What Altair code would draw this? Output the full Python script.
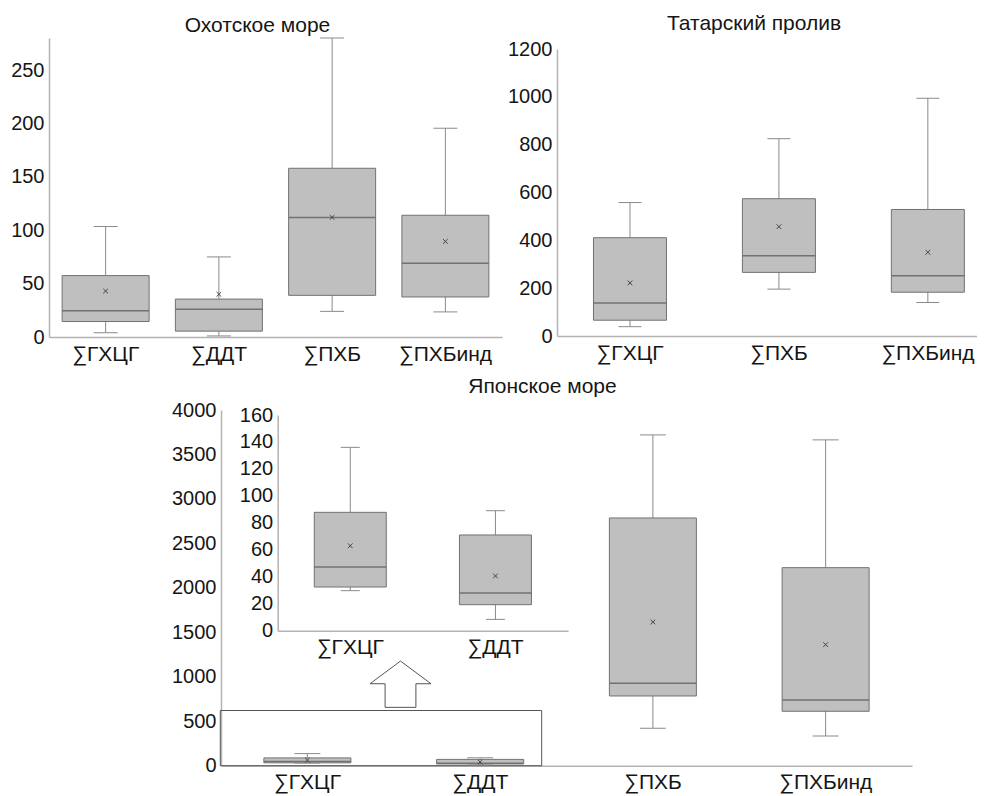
import altair as alt
import pandas as pd

FONT = "Liberation Sans"
FS_Y = 20
FS_X = 21
FS_T = 21
TXT = "#151515"
BOX_FILL = "#bfbfbf"
BOX_EDGE = "#727272"
WHISK = "#8a8a8a"
AXIS = "#b4b4b4"
MARK = "#444444"

# ---------------- data ----------------
# Охотское море
okh_cats = ["∑ГХЦГ", "∑ДДТ", "∑ПХБ", "∑ПХБинд"]
okh_min = [4, 1, 24, 23.5]
okh_q1 = [14.5, 5.5, 39, 37.5]
okh_med = [24.5, 26, 112, 69]
okh_q3 = [57.5, 35.5, 158, 114]
okh_max = [103.5, 75, 280, 195.5]
okh_mean = [43, 40, 112, 89.5]
okh_ticks = [0, 50, 100, 150, 200, 250]

# Татарский пролив
tat_cats = ["∑ГХЦГ", "∑ПХБ", "∑ПХБинд"]
tat_min = [39, 196, 140]
tat_q1 = [66, 266, 183]
tat_med = [138, 336, 252]
tat_q3 = [411, 574, 529]
tat_max = [558, 825, 994]
tat_mean = [222, 457, 350]
tat_ticks = [0, 200, 400, 600, 800, 1000, 1200]

# Японское море
jap_cats = ["∑ГХЦГ", "∑ДДТ", "∑ПХБ", "∑ПХБинд"]
jap_min = [29.7, 8.4, 421, 334]
jap_q1 = [32.4, 19.3, 784, 612]
jap_med = [47.3, 28, 927, 739]
jap_q3 = [87.8, 71, 2786, 2227]
jap_max = [136, 89, 3720, 3664]
jap_mean = [63, 40.6, 1616, 1361]
jap_ticks = [0, 500, 1000, 1500, 2000, 2500, 3000, 3500, 4000]

# inset (увеличенный фрагмент для ∑ГХЦГ и ∑ДДТ)
ins_cats = ["∑ГХЦГ", "∑ДДТ"]
ins_ticks = [0, 20, 40, 60, 80, 100, 120, 140, 160]

titles = ["Охотское море", "Татарский пролив", "Японское море"]

# ---------------- layout ----------------
W, H = 969, 786


def panel(cats, mins, q1, med, q3, maxs, means, ydomain, yticks,
          xrange, yrange, xpad, box_w, cap_w):
    df = pd.DataFrame(dict(cat=cats, lo=mins, q1=q1, med=med, q3=q3,
                           hi=maxs, mean=means))
    xs = alt.Scale(domain=cats, range=xrange, **xpad)
    xax = alt.Axis(orient="bottom", offset=yrange[0] - H, title=None,
                   ticks=False, tickSize=0, labelAngle=0, labelPadding=6,
                   grid=False, labelFont=FONT, labelFontSize=FS_X,
                   labelColor=TXT, domainColor=AXIS, domainWidth=1.5)
    x = alt.X("cat:N", sort=cats, scale=xs, axis=xax)
    ys = alt.Scale(domain=ydomain, range=yrange, nice=False, zero=True)
    yax = alt.Axis(orient="left", offset=-xrange[0], values=yticks,
                   format="d", title=None, ticks=False, tickSize=0,
                   labelPadding=5, grid=False, labelFont=FONT,
                   labelFontSize=FS_Y, labelColor=TXT, domainColor=AXIS,
                   domainWidth=1.5)

    def Y(f):
        return alt.Y(f"{f}:Q", scale=ys, axis=yax)

    base = alt.Chart(df).encode(x=x)
    whisk = base.mark_rule(color=WHISK, strokeWidth=1).encode(y=Y("lo"), y2="hi")
    box = base.mark_bar(size=box_w, fill=BOX_FILL, stroke=BOX_EDGE,
                        strokeWidth=1).encode(y=Y("q1"), y2="q3")
    medl = base.mark_tick(size=box_w, thickness=1.5, color=BOX_EDGE,
                          opacity=1).encode(y=Y("med"))
    caplo = base.mark_tick(size=cap_w, thickness=1, color=WHISK,
                           opacity=1).encode(y=Y("lo"))
    caphi = base.mark_tick(size=cap_w, thickness=1, color=WHISK,
                           opacity=1).encode(y=Y("hi"))
    mean = base.mark_point(shape="M-1,-1L1,1M-1,1L1,-1", size=22,
                           filled=False, stroke=MARK, strokeWidth=1,
                           opacity=1).encode(y=Y("mean"))
    return alt.layer(whisk, box, medl, caplo, caphi, mean)


p1 = panel(okh_cats, okh_min, okh_q1, okh_med, okh_q3, okh_max, okh_mean,
           [0, 280], okh_ticks, [41, 494], [329, 30],
           dict(paddingInner=0.2, paddingOuter=0.1), 87, 24)
p2 = panel(tat_cats, tat_min, tat_q1, tat_med, tat_q3, tat_max, tat_mean,
           [0, 1200], tat_ticks, [549, 969], [328, 41],
           dict(paddingInner=0.5, paddingOuter=0.16, align=0.75), 73, 23)
p3 = panel(jap_cats, jap_min, jap_q1, jap_med, jap_q3, jap_max, jap_mean,
           [0, 4000], jap_ticks, [213, 904], [757.7, 402],
           dict(paddingInner=0.5, paddingOuter=0.25), 87, 26)
p4 = panel(ins_cats, jap_min[:2], jap_q1[:2], jap_med[:2], jap_q3[:2],
           jap_max[:2], jap_mean[:2],
           [0, 160], ins_ticks, [269.7, 560], [622.7, 407],
           dict(paddingInner=0.5, paddingOuter=0.25), 72, 19)

one = pd.DataFrame({"k": [0]})
frame = alt.Chart(one).mark_rect(fill="white", fillOpacity=0, stroke="#555555",
                                 strokeWidth=1).encode(
    x=alt.value(212.3), x2=alt.value(533.7), y=alt.value(702.5), y2=alt.value(757.7))

arrow = alt.Chart(one).mark_point(
    shape="M0,-0.759L1,-0.015L0.505,-0.015L0.505,0.759L-0.505,0.759L-0.505,-0.015L-1,-0.015Z",
    size=3721, filled=True, fill="white", stroke="#555555", strokeWidth=1,
    opacity=1).encode(x=alt.value(392.5), y=alt.value(676.2))

tdf = pd.DataFrame({"t": titles, "px": [249.5, 746, 534.5], "py": [23.7, 22, 385]})
title_layers = [
    alt.Chart(one).mark_text(font=FONT, fontSize=FS_T, color=TXT,
                             align="center", baseline="alphabetic").encode(
        x=alt.value(float(r.px)), y=alt.value(float(r.py)), text=alt.value(r.t))
    for r in tdf.itertuples()
]

chart = alt.layer(p1, p2, frame, p3, p4, arrow, *title_layers).resolve_scale(
    x="independent", y="independent"
).properties(
    width=W, height=H, padding=0, autosize=alt.AutoSizeParams(type="none")
).configure_view(stroke="transparent", strokeWidth=0)

chart.save("out.html", embed_options={"renderer": "svg", "actions": False})
